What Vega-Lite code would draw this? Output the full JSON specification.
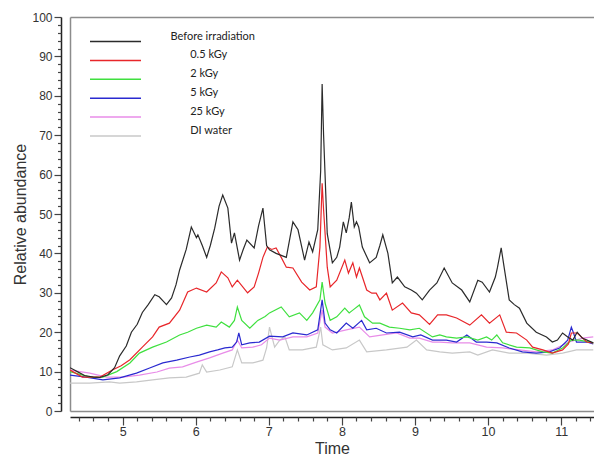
{
  "$schema": "https://vega.github.io/schema/vega-lite/v6.json",
  "width": 524,
  "height": 394,
  "autosize": {"type": "none"},
  "padding": {"left": 70, "top": 17, "right": 0, "bottom": 46},
  "background": "white",
  "config": {"view": {"stroke": null}, "font": "Liberation Sans"},
  "data": {"values": [
    {"s":"DI water","t":4.28,"v":7.1},{"s":"DI water","t":4.55,"v":7.1},{"s":"DI water","t":4.82,"v":7.4},{"s":"DI water","t":4.96,"v":7.1},{"s":"DI water","t":5.19,"v":7.4},{"s":"DI water","t":5.41,"v":7.9},{"s":"DI water","t":5.64,"v":8.4},{"s":"DI water","t":5.87,"v":8.6},{"s":"DI water","t":6.05,"v":9.6},{"s":"DI water","t":6.09,"v":11.7},{"s":"DI water","t":6.15,"v":9.9},{"s":"DI water","t":6.33,"v":10.4},{"s":"DI water","t":6.5,"v":11.2},{"s":"DI water","t":6.57,"v":15.5},{"s":"DI water","t":6.63,"v":12.2},{"s":"DI water","t":6.78,"v":12.2},{"s":"DI water","t":6.92,"v":12.9},{"s":"DI water","t":6.97,"v":16},{"s":"DI water","t":7.01,"v":21.3},{"s":"DI water","t":7.08,"v":16.2},{"s":"DI water","t":7.15,"v":18},{"s":"DI water","t":7.22,"v":18.8},{"s":"DI water","t":7.28,"v":15.5},{"s":"DI water","t":7.46,"v":15.5},{"s":"DI water","t":7.65,"v":16.2},{"s":"DI water","t":7.71,"v":21.3},{"s":"DI water","t":7.74,"v":16.8},{"s":"DI water","t":7.87,"v":15.5},{"s":"DI water","t":8.06,"v":16},{"s":"DI water","t":8.24,"v":18},{"s":"DI water","t":8.34,"v":15},{"s":"DI water","t":8.61,"v":15.5},{"s":"DI water","t":8.89,"v":16.2},{"s":"DI water","t":9.02,"v":18},{"s":"DI water","t":9.16,"v":15.5},{"s":"DI water","t":9.34,"v":15},{"s":"DI water","t":9.51,"v":14.7},{"s":"DI water","t":9.75,"v":15},{"s":"DI water","t":9.86,"v":14.2},{"s":"DI water","t":10.06,"v":15.5},{"s":"DI water","t":10.29,"v":14.7},{"s":"DI water","t":10.53,"v":14.7},{"s":"DI water","t":10.8,"v":14.2},{"s":"DI water","t":11.02,"v":14.7},{"s":"DI water","t":11.21,"v":15.5},{"s":"DI water","t":11.44,"v":15.5},

    {"s":"25 kGy","t":4.28,"v":10.4},{"s":"25 kGy","t":4.55,"v":9.6},{"s":"25 kGy","t":4.78,"v":8.6},{"s":"25 kGy","t":5.0,"v":8.6},{"s":"25 kGy","t":5.23,"v":9.1},{"s":"25 kGy","t":5.47,"v":9.9},{"s":"25 kGy","t":5.64,"v":10.9},{"s":"25 kGy","t":5.82,"v":11.2},{"s":"25 kGy","t":6.01,"v":12.4},{"s":"25 kGy","t":6.19,"v":13.5},{"s":"25 kGy","t":6.37,"v":14.7},{"s":"25 kGy","t":6.5,"v":15.5},{"s":"25 kGy","t":6.57,"v":18},{"s":"25 kGy","t":6.63,"v":16},{"s":"25 kGy","t":6.78,"v":16.2},{"s":"25 kGy","t":6.9,"v":16.8},{"s":"25 kGy","t":7.01,"v":18.5},{"s":"25 kGy","t":7.15,"v":18},{"s":"25 kGy","t":7.33,"v":18.8},{"s":"25 kGy","t":7.52,"v":18.8},{"s":"25 kGy","t":7.67,"v":19.8},{"s":"25 kGy","t":7.73,"v":25.6},{"s":"25 kGy","t":7.77,"v":21.3},{"s":"25 kGy","t":7.87,"v":19.8},{"s":"25 kGy","t":8.06,"v":20.6},{"s":"25 kGy","t":8.24,"v":21.3},{"s":"25 kGy","t":8.38,"v":18.8},{"s":"25 kGy","t":8.56,"v":19.3},{"s":"25 kGy","t":8.75,"v":19.8},{"s":"25 kGy","t":8.93,"v":18.5},{"s":"25 kGy","t":9.06,"v":18.5},{"s":"25 kGy","t":9.24,"v":17.5},{"s":"25 kGy","t":9.34,"v":17.5},{"s":"25 kGy","t":9.51,"v":17.3},{"s":"25 kGy","t":9.75,"v":17.3},{"s":"25 kGy","t":9.98,"v":16.2},{"s":"25 kGy","t":10.2,"v":16},{"s":"25 kGy","t":10.43,"v":15.5},{"s":"25 kGy","t":10.66,"v":15},{"s":"25 kGy","t":10.88,"v":15.5},{"s":"25 kGy","t":11.11,"v":17.5},{"s":"25 kGy","t":11.29,"v":18.5},{"s":"25 kGy","t":11.44,"v":18.8},

    {"s":"5 kGy","t":4.28,"v":9.1},{"s":"5 kGy","t":4.5,"v":8.6},{"s":"5 kGy","t":4.73,"v":7.9},{"s":"5 kGy","t":4.96,"v":8.4},{"s":"5 kGy","t":5.19,"v":9.6},{"s":"5 kGy","t":5.37,"v":10.9},{"s":"5 kGy","t":5.55,"v":12.2},{"s":"5 kGy","t":5.74,"v":12.9},{"s":"5 kGy","t":5.92,"v":13.7},{"s":"5 kGy","t":6.05,"v":14.2},{"s":"5 kGy","t":6.19,"v":15},{"s":"5 kGy","t":6.3,"v":15.5},{"s":"5 kGy","t":6.4,"v":16},{"s":"5 kGy","t":6.5,"v":16.2},{"s":"5 kGy","t":6.56,"v":17.5},{"s":"5 kGy","t":6.59,"v":19.8},{"s":"5 kGy","t":6.63,"v":16.8},{"s":"5 kGy","t":6.74,"v":17.3},{"s":"5 kGy","t":6.87,"v":17.5},{"s":"5 kGy","t":7.01,"v":19},{"s":"5 kGy","t":7.19,"v":18.8},{"s":"5 kGy","t":7.33,"v":19.8},{"s":"5 kGy","t":7.52,"v":19.3},{"s":"5 kGy","t":7.67,"v":20.6},{"s":"5 kGy","t":7.73,"v":28.2},{"s":"5 kGy","t":7.77,"v":22.3},{"s":"5 kGy","t":7.84,"v":20.6},{"s":"5 kGy","t":7.93,"v":19.8},{"s":"5 kGy","t":8.06,"v":22.3},{"s":"5 kGy","t":8.15,"v":21},{"s":"5 kGy","t":8.27,"v":23},{"s":"5 kGy","t":8.34,"v":20.6},{"s":"5 kGy","t":8.47,"v":21},{"s":"5 kGy","t":8.61,"v":19.8},{"s":"5 kGy","t":8.79,"v":20},{"s":"5 kGy","t":8.97,"v":18.8},{"s":"5 kGy","t":9.08,"v":19.3},{"s":"5 kGy","t":9.24,"v":18},{"s":"5 kGy","t":9.43,"v":18},{"s":"5 kGy","t":9.57,"v":17.5},{"s":"5 kGy","t":9.71,"v":19.3},{"s":"5 kGy","t":9.84,"v":17.5},{"s":"5 kGy","t":9.98,"v":17.5},{"s":"5 kGy","t":10.12,"v":17.3},{"s":"5 kGy","t":10.29,"v":16},{"s":"5 kGy","t":10.47,"v":15},{"s":"5 kGy","t":10.66,"v":14.7},{"s":"5 kGy","t":10.84,"v":15},{"s":"5 kGy","t":10.98,"v":16},{"s":"5 kGy","t":11.09,"v":18},{"s":"5 kGy","t":11.14,"v":21.3},{"s":"5 kGy","t":11.17,"v":19.8},{"s":"5 kGy","t":11.21,"v":17.5},{"s":"5 kGy","t":11.35,"v":17.5},{"s":"5 kGy","t":11.44,"v":17},

    {"s":"2 kGy","t":4.28,"v":10},{"s":"2 kGy","t":4.55,"v":8.6},{"s":"2 kGy","t":4.73,"v":8.6},{"s":"2 kGy","t":4.92,"v":10},{"s":"2 kGy","t":5.1,"v":12.2},{"s":"2 kGy","t":5.23,"v":14.7},{"s":"2 kGy","t":5.41,"v":16.2},{"s":"2 kGy","t":5.6,"v":17.5},{"s":"2 kGy","t":5.78,"v":19.3},{"s":"2 kGy","t":5.89,"v":20},{"s":"2 kGy","t":6.01,"v":21},{"s":"2 kGy","t":6.15,"v":21.8},{"s":"2 kGy","t":6.28,"v":21.3},{"s":"2 kGy","t":6.35,"v":22.6},{"s":"2 kGy","t":6.46,"v":21.3},{"s":"2 kGy","t":6.53,"v":23},{"s":"2 kGy","t":6.57,"v":26.4},{"s":"2 kGy","t":6.63,"v":23},{"s":"2 kGy","t":6.74,"v":21},{"s":"2 kGy","t":6.85,"v":23},{"s":"2 kGy","t":6.95,"v":24},{"s":"2 kGy","t":7.01,"v":24.9},{"s":"2 kGy","t":7.17,"v":26.4},{"s":"2 kGy","t":7.28,"v":23.9},{"s":"2 kGy","t":7.42,"v":24.9},{"s":"2 kGy","t":7.52,"v":23},{"s":"2 kGy","t":7.6,"v":24.9},{"s":"2 kGy","t":7.7,"v":28.2},{"s":"2 kGy","t":7.73,"v":32.7},{"s":"2 kGy","t":7.77,"v":27.4},{"s":"2 kGy","t":7.84,"v":23},{"s":"2 kGy","t":7.93,"v":23.9},{"s":"2 kGy","t":8.04,"v":26.1},{"s":"2 kGy","t":8.1,"v":24.9},{"s":"2 kGy","t":8.15,"v":25.6},{"s":"2 kGy","t":8.24,"v":26.9},{"s":"2 kGy","t":8.31,"v":23.9},{"s":"2 kGy","t":8.42,"v":22.3},{"s":"2 kGy","t":8.52,"v":22.3},{"s":"2 kGy","t":8.65,"v":21.3},{"s":"2 kGy","t":8.79,"v":21},{"s":"2 kGy","t":8.93,"v":20.6},{"s":"2 kGy","t":9.06,"v":21},{"s":"2 kGy","t":9.24,"v":18.8},{"s":"2 kGy","t":9.34,"v":19.3},{"s":"2 kGy","t":9.43,"v":18.8},{"s":"2 kGy","t":9.57,"v":18.5},{"s":"2 kGy","t":9.71,"v":18.8},{"s":"2 kGy","t":9.86,"v":18},{"s":"2 kGy","t":9.98,"v":18.8},{"s":"2 kGy","t":10.05,"v":18},{"s":"2 kGy","t":10.12,"v":19.3},{"s":"2 kGy","t":10.2,"v":17.3},{"s":"2 kGy","t":10.39,"v":16.2},{"s":"2 kGy","t":10.57,"v":16},{"s":"2 kGy","t":10.75,"v":15},{"s":"2 kGy","t":10.88,"v":14.7},{"s":"2 kGy","t":11.02,"v":16},{"s":"2 kGy","t":11.14,"v":18},{"s":"2 kGy","t":11.25,"v":18},{"s":"2 kGy","t":11.44,"v":17.3},

    {"s":"0.5 kGy","t":4.28,"v":10.4},{"s":"0.5 kGy","t":4.45,"v":8.6},{"s":"0.5 kGy","t":4.69,"v":8.6},{"s":"0.5 kGy","t":4.86,"v":10.4},{"s":"0.5 kGy","t":4.98,"v":11.5},{"s":"0.5 kGy","t":5.1,"v":13},{"s":"0.5 kGy","t":5.27,"v":16.2},{"s":"0.5 kGy","t":5.41,"v":18.8},{"s":"0.5 kGy","t":5.5,"v":21.3},{"s":"0.5 kGy","t":5.64,"v":22.3},{"s":"0.5 kGy","t":5.78,"v":25.6},{"s":"0.5 kGy","t":5.89,"v":30.2},{"s":"0.5 kGy","t":6.01,"v":31.2},{"s":"0.5 kGy","t":6.15,"v":30.2},{"s":"0.5 kGy","t":6.28,"v":32.5},{"s":"0.5 kGy","t":6.35,"v":35.3},{"s":"0.5 kGy","t":6.44,"v":33.8},{"s":"0.5 kGy","t":6.5,"v":31.5},{"s":"0.5 kGy","t":6.57,"v":33.2},{"s":"0.5 kGy","t":6.71,"v":30},{"s":"0.5 kGy","t":6.8,"v":31.5},{"s":"0.5 kGy","t":6.86,"v":35},{"s":"0.5 kGy","t":6.92,"v":39},{"s":"0.5 kGy","t":6.98,"v":41.6},{"s":"0.5 kGy","t":7.04,"v":41},{"s":"0.5 kGy","t":7.1,"v":41.4},{"s":"0.5 kGy","t":7.17,"v":39},{"s":"0.5 kGy","t":7.24,"v":36.5},{"s":"0.5 kGy","t":7.33,"v":36.3},{"s":"0.5 kGy","t":7.45,"v":32.7},{"s":"0.5 kGy","t":7.56,"v":30.7},{"s":"0.5 kGy","t":7.65,"v":31.5},{"s":"0.5 kGy","t":7.7,"v":41.6},{"s":"0.5 kGy","t":7.73,"v":57.8},{"s":"0.5 kGy","t":7.75,"v":51},{"s":"0.5 kGy","t":7.8,"v":36.5},{"s":"0.5 kGy","t":7.84,"v":31.5},{"s":"0.5 kGy","t":7.93,"v":33.2},{"s":"0.5 kGy","t":8.04,"v":38.3},{"s":"0.5 kGy","t":8.09,"v":35},{"s":"0.5 kGy","t":8.15,"v":37.6},{"s":"0.5 kGy","t":8.2,"v":34},{"s":"0.5 kGy","t":8.24,"v":36.3},{"s":"0.5 kGy","t":8.34,"v":30.7},{"s":"0.5 kGy","t":8.41,"v":29.9},{"s":"0.5 kGy","t":8.47,"v":29.9},{"s":"0.5 kGy","t":8.52,"v":28.2},{"s":"0.5 kGy","t":8.61,"v":29.9},{"s":"0.5 kGy","t":8.69,"v":25.6},{"s":"0.5 kGy","t":8.83,"v":27.4},{"s":"0.5 kGy","t":8.95,"v":24.9},{"s":"0.5 kGy","t":9.06,"v":24.4},{"s":"0.5 kGy","t":9.2,"v":22},{"s":"0.5 kGy","t":9.31,"v":24.4},{"s":"0.5 kGy","t":9.43,"v":24.4},{"s":"0.5 kGy","t":9.57,"v":23.6},{"s":"0.5 kGy","t":9.75,"v":21.8},{"s":"0.5 kGy","t":9.91,"v":24.4},{"s":"0.5 kGy","t":10.02,"v":22.3},{"s":"0.5 kGy","t":10.16,"v":24.4},{"s":"0.5 kGy","t":10.25,"v":20},{"s":"0.5 kGy","t":10.39,"v":19.8},{"s":"0.5 kGy","t":10.53,"v":18},{"s":"0.5 kGy","t":10.61,"v":16.2},{"s":"0.5 kGy","t":10.75,"v":15.5},{"s":"0.5 kGy","t":10.88,"v":14.7},{"s":"0.5 kGy","t":11.02,"v":15.5},{"s":"0.5 kGy","t":11.1,"v":17},{"s":"0.5 kGy","t":11.14,"v":19.8},{"s":"0.5 kGy","t":11.22,"v":19.8},{"s":"0.5 kGy","t":11.35,"v":17.5},{"s":"0.5 kGy","t":11.44,"v":17.3},

    {"s":"Before irradiation","t":4.28,"v":11},{"s":"Before irradiation","t":4.38,"v":10},{"s":"Before irradiation","t":4.48,"v":9},{"s":"Before irradiation","t":4.6,"v":8.6},{"s":"Before irradiation","t":4.69,"v":8.5},{"s":"Before irradiation","t":4.8,"v":9.2},{"s":"Before irradiation","t":4.89,"v":11},{"s":"Before irradiation","t":4.96,"v":14},{"s":"Before irradiation","t":5.05,"v":16.5},{"s":"Before irradiation","t":5.12,"v":20},{"s":"Before irradiation","t":5.2,"v":22},{"s":"Before irradiation","t":5.27,"v":25},{"s":"Before irradiation","t":5.35,"v":27},{"s":"Before irradiation","t":5.44,"v":29.5},{"s":"Before irradiation","t":5.5,"v":29},{"s":"Before irradiation","t":5.6,"v":27},{"s":"Before irradiation","t":5.67,"v":28.7},{"s":"Before irradiation","t":5.73,"v":32},{"s":"Before irradiation","t":5.78,"v":35.8},{"s":"Before irradiation","t":5.87,"v":41},{"s":"Before irradiation","t":5.94,"v":46.7},{"s":"Before irradiation","t":6.01,"v":44},{"s":"Before irradiation","t":6.03,"v":44.7},{"s":"Before irradiation","t":6.09,"v":42},{"s":"Before irradiation","t":6.15,"v":39},{"s":"Before irradiation","t":6.2,"v":42},{"s":"Before irradiation","t":6.26,"v":46.4},{"s":"Before irradiation","t":6.32,"v":52},{"s":"Before irradiation","t":6.37,"v":54.8},{"s":"Before irradiation","t":6.44,"v":51.5},{"s":"Before irradiation","t":6.49,"v":42.6},{"s":"Before irradiation","t":6.53,"v":45.2},{"s":"Before irradiation","t":6.6,"v":38.3},{"s":"Before irradiation","t":6.65,"v":41},{"s":"Before irradiation","t":6.7,"v":43.4},{"s":"Before irradiation","t":6.8,"v":41.4},{"s":"Before irradiation","t":6.86,"v":47},{"s":"Before irradiation","t":6.92,"v":51.5},{"s":"Before irradiation","t":6.97,"v":42},{"s":"Before irradiation","t":7.01,"v":40.9},{"s":"Before irradiation","t":7.1,"v":40},{"s":"Before irradiation","t":7.17,"v":39.5},{"s":"Before irradiation","t":7.24,"v":39},{"s":"Before irradiation","t":7.29,"v":44},{"s":"Before irradiation","t":7.33,"v":48},{"s":"Before irradiation","t":7.4,"v":46},{"s":"Before irradiation","t":7.49,"v":38.3},{"s":"Before irradiation","t":7.55,"v":42.9},{"s":"Before irradiation","t":7.6,"v":40.4},{"s":"Before irradiation","t":7.67,"v":46},{"s":"Before irradiation","t":7.71,"v":61},{"s":"Before irradiation","t":7.73,"v":83},{"s":"Before irradiation","t":7.75,"v":70},{"s":"Before irradiation","t":7.78,"v":55},{"s":"Before irradiation","t":7.8,"v":45},{"s":"Before irradiation","t":7.87,"v":37.6},{"s":"Before irradiation","t":7.93,"v":39},{"s":"Before irradiation","t":7.97,"v":41.6},{"s":"Before irradiation","t":8.02,"v":48},{"s":"Before irradiation","t":8.06,"v":45.2},{"s":"Before irradiation","t":8.1,"v":49},{"s":"Before irradiation","t":8.13,"v":53},{"s":"Before irradiation","t":8.17,"v":46.7},{"s":"Before irradiation","t":8.2,"v":48},{"s":"Before irradiation","t":8.23,"v":46.7},{"s":"Before irradiation","t":8.28,"v":41.6},{"s":"Before irradiation","t":8.38,"v":37.6},{"s":"Before irradiation","t":8.47,"v":39},{"s":"Before irradiation","t":8.52,"v":42},{"s":"Before irradiation","t":8.56,"v":44.7},{"s":"Before irradiation","t":8.63,"v":40},{"s":"Before irradiation","t":8.69,"v":32.5},{"s":"Before irradiation","t":8.76,"v":34},{"s":"Before irradiation","t":8.86,"v":31.5},{"s":"Before irradiation","t":8.95,"v":30.7},{"s":"Before irradiation","t":9.02,"v":29.9},{"s":"Before irradiation","t":9.1,"v":28.2},{"s":"Before irradiation","t":9.2,"v":30.7},{"s":"Before irradiation","t":9.3,"v":32.5},{"s":"Before irradiation","t":9.4,"v":36.3},{"s":"Before irradiation","t":9.51,"v":32.5},{"s":"Before irradiation","t":9.64,"v":30.7},{"s":"Before irradiation","t":9.75,"v":27.7},{"s":"Before irradiation","t":9.86,"v":33.2},{"s":"Before irradiation","t":9.92,"v":32.7},{"s":"Before irradiation","t":10.02,"v":30.2},{"s":"Before irradiation","t":10.1,"v":34},{"s":"Before irradiation","t":10.13,"v":36.5},{"s":"Before irradiation","t":10.18,"v":41.4},{"s":"Before irradiation","t":10.22,"v":36.5},{"s":"Before irradiation","t":10.29,"v":28.2},{"s":"Before irradiation","t":10.36,"v":27},{"s":"Before irradiation","t":10.43,"v":26.1},{"s":"Before irradiation","t":10.53,"v":22.3},{"s":"Before irradiation","t":10.66,"v":20},{"s":"Before irradiation","t":10.8,"v":18.8},{"s":"Before irradiation","t":10.88,"v":17.5},{"s":"Before irradiation","t":10.95,"v":18},{"s":"Before irradiation","t":11.02,"v":19.8},{"s":"Before irradiation","t":11.09,"v":18.8},{"s":"Before irradiation","t":11.16,"v":18},{"s":"Before irradiation","t":11.22,"v":20},{"s":"Before irradiation","t":11.29,"v":18.5},{"s":"Before irradiation","t":11.44,"v":17.3}
  ]},
  "layer": [
    {
      "mark": {"type": "line", "strokeWidth": 1.2, "clip": true},
      "encoding": {
        "x": {"field": "t", "type": "quantitative",
          "scale": {"domain": [4.28, 11.45], "nice": false, "zero": false},
          "axis": {"orient": "bottom", "offset": 6, "values": [5, 6, 7, 8, 9, 10, 11], "format": "d",
            "title": "Time", "titleFontSize": 16, "titleFontWeight": "normal", "titleColor": "#333", "titlePadding": 3,
            "labelFontSize": 12.5, "labelColor": "#333", "labelPadding": 0, "labelFlush": false,
            "tickSize": 8, "tickColor": "#444", "tickWidth": 1.2, "domainColor": "#222", "domainWidth": 1.5, "grid": false}},
        "y": {"field": "v", "type": "quantitative",
          "scale": {"domain": [0, 100], "nice": false},
          "axis": {"orient": "left", "offset": 9, "values": [0, 10, 20, 30, 40, 50, 60, 70, 80, 90, 100],
            "title": "Relative abundance", "titleFontSize": 16, "titleFontWeight": "normal", "titleColor": "#333", "titlePadding": 3,
            "labelFontSize": 12, "labelColor": "#333", "labelPadding": 2, "labelFlush": false,
            "tickSize": 7, "tickColor": "#444", "tickWidth": 1.2, "domainColor": "#222", "domainWidth": 1.5, "grid": false}},
        "color": {"field": "s", "type": "nominal",
          "scale": {"domain": ["Before irradiation", "0.5 kGy", "2 kGy", "5 kGy", "25 kGy", "DI water"],
                    "range": ["#2b2b2b", "#e8262a", "#3fe03f", "#2a2ad0", "#e88ce8", "#c8c8c8"]},
          "legend": {"orient": "none", "legendX": 39.5, "legendY": 18.5, "title": null,
            "symbolType": "M-5.1,0H5.1", "symbolSize": 100, "symbolStrokeWidth": 1.5,
            "labelFont": "Lato", "labelFontSize": 11, "labelColor": "#222", "labelOffset": 49,
            "labelBaseline": "bottom", "rowPadding": 4.9, "padding": 0,
            "labelExpr": "datum.label == 'Before irradiation' ? datum.label : '\u200b\u00a0\u00a0\u00a0\u00a0\u00a0\u00a0\u00a0' + datum.label"}}
      }
    },
    {
      "mark": {"type": "point", "opacity": 0, "size": 0},
      "encoding": {
        "x": {"field": "t", "type": "quantitative",
          "axis": {"orient": "bottom", "offset": 6, "values": [4.4, 4.6, 4.8, 5.2, 5.4, 5.6, 5.8, 6.2, 6.4, 6.6, 6.8, 7.2, 7.4, 7.6, 7.8, 8.2, 8.4, 8.6, 8.8, 9.2, 9.4, 9.6, 9.8, 10.2, 10.4, 10.6, 10.8, 11.2, 11.4],
            "labels": false, "domain": false, "title": null, "tickSize": 4, "tickColor": "#444", "tickWidth": 1.2, "grid": false}},
        "y": {"field": "v", "type": "quantitative",
          "axis": {"orient": "left", "offset": 9, "values": [2, 4, 6, 8, 12, 14, 16, 18, 22, 24, 26, 28, 32, 34, 36, 38, 42, 44, 46, 48, 52, 54, 56, 58, 62, 64, 66, 68, 72, 74, 76, 78, 82, 84, 86, 88, 92, 94, 96, 98],
            "labels": false, "domain": false, "title": null, "tickSize": 3.5, "tickColor": "#444", "tickWidth": 1.2, "grid": false}}
      }
    },
    {
      "mark": {"type": "point", "opacity": 0, "size": 0},
      "encoding": {
        "x": {"field": "t", "type": "quantitative",
          "axis": {"orient": "bottom", "offset": 0, "labels": false, "ticks": false, "title": null, "grid": false,
            "domainColor": "#8c8c8c", "domainWidth": 1.5}},
        "y": {"field": "v", "type": "quantitative",
          "axis": {"orient": "left", "offset": 0, "labels": false, "ticks": false, "title": null, "grid": false,
            "domainColor": "#8c8c8c", "domainWidth": 1.5}}
      }
    },
    {
      "mark": {"type": "point", "opacity": 0, "size": 0},
      "encoding": {
        "x": {"field": "t", "type": "quantitative",
          "axis": {"orient": "top", "offset": 0, "labels": false, "ticks": false, "title": null, "grid": false,
            "domainColor": "#8c8c8c", "domainWidth": 1.5}},
        "y": {"field": "v", "type": "quantitative", "axis": null}
      }
    }
  ],
  "resolve": {"axis": {"x": "independent", "y": "independent"}}
}
